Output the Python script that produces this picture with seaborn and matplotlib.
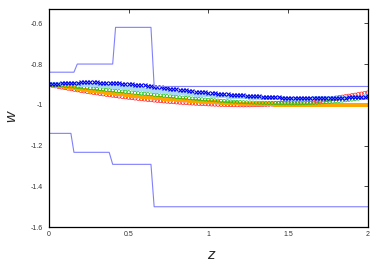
import numpy as np
import pandas as pd
import matplotlib
matplotlib.use("Agg")
import matplotlib.pyplot as plt
import seaborn as sns

# ---------------- data ----------------
z = np.linspace(0.0, 2.0, 101)

w_red = [
    -0.9000, -0.9031, -0.9061, -0.9090, -0.9119, -0.9148, -0.9176, -0.9204, -0.9231, -0.9258,
    -0.9284, -0.9310, -0.9335, -0.9360, -0.9384, -0.9408, -0.9432, -0.9455, -0.9477, -0.9499,
    -0.9521, -0.9542, -0.9562, -0.9582, -0.9602, -0.9621, -0.9640, -0.9658, -0.9676, -0.9693,
    -0.9710, -0.9726, -0.9742, -0.9758, -0.9773, -0.9787, -0.9801, -0.9814, -0.9827, -0.9840,
    -0.9852, -0.9864, -0.9875, -0.9885, -0.9896, -0.9905, -0.9915, -0.9923, -0.9932, -0.9939,
    -0.9947, -0.9954, -0.9960, -0.9966, -0.9971, -0.9976, -0.9981, -0.9985, -0.9988, -0.9991,
    -0.9994, -0.9994, -0.9993, -0.9991, -0.9988, -0.9985, -0.9981, -0.9977, -0.9971, -0.9965,
    -0.9958, -0.9951, -0.9943, -0.9934, -0.9924, -0.9914, -0.9903, -0.9891, -0.9879, -0.9866,
    -0.9852, -0.9837, -0.9822, -0.9806, -0.9789, -0.9772, -0.9753, -0.9735, -0.9715, -0.9695,
    -0.9674, -0.9652, -0.9630, -0.9606, -0.9583, -0.9558, -0.9533, -0.9507, -0.9480, -0.9453,
    -0.9424,
]

w_orange = [
    -0.9000, -0.9025, -0.9049, -0.9074, -0.9098, -0.9121, -0.9144, -0.9167, -0.9190, -0.9212,
    -0.9234, -0.9256, -0.9278, -0.9299, -0.9319, -0.9340, -0.9360, -0.9380, -0.9399, -0.9419,
    -0.9438, -0.9456, -0.9474, -0.9492, -0.9510, -0.9527, -0.9544, -0.9561, -0.9578, -0.9594,
    -0.9609, -0.9625, -0.9640, -0.9655, -0.9669, -0.9684, -0.9698, -0.9711, -0.9724, -0.9737,
    -0.9750, -0.9762, -0.9774, -0.9786, -0.9798, -0.9809, -0.9819, -0.9830, -0.9840, -0.9850,
    -0.9859, -0.9869, -0.9878, -0.9886, -0.9894, -0.9902, -0.9910, -0.9917, -0.9924, -0.9931,
    -0.9938, -0.9944, -0.9949, -0.9955, -0.9960, -0.9965, -0.9969, -0.9974, -0.9978, -0.9981,
    -0.9984, -0.9987, -0.9990, -0.9992, -0.9994, -0.9996, -0.9998, -0.9999, -0.9999, -1.0000,
    -1.0000, -1.0000, -1.0000, -1.0000, -1.0000, -1.0000, -1.0000, -1.0000, -1.0000, -1.0000,
    -1.0000, -1.0000, -1.0000, -1.0000, -1.0000, -1.0000, -1.0000, -1.0000, -1.0000, -1.0000,
    -1.0000,
]

w_green = [
    -0.9000, -0.9013, -0.9026, -0.9040, -0.9054, -0.9068, -0.9082, -0.9096, -0.9110, -0.9125,
    -0.9140, -0.9155, -0.9170, -0.9185, -0.9200, -0.9216, -0.9232, -0.9248, -0.9264, -0.9281,
    -0.9298, -0.9313, -0.9329, -0.9345, -0.9361, -0.9377, -0.9393, -0.9409, -0.9425, -0.9441,
    -0.9457, -0.9473, -0.9489, -0.9505, -0.9521, -0.9537, -0.9553, -0.9568, -0.9584, -0.9599,
    -0.9614, -0.9629, -0.9644, -0.9659, -0.9673, -0.9687, -0.9701, -0.9715, -0.9728, -0.9741,
    -0.9754, -0.9767, -0.9779, -0.9791, -0.9803, -0.9814, -0.9825, -0.9836, -0.9846, -0.9856,
    -0.9866, -0.9872, -0.9879, -0.9884, -0.9889, -0.9894, -0.9898, -0.9901, -0.9905, -0.9907,
    -0.9909, -0.9916, -0.9921, -0.9924, -0.9927, -0.9927, -0.9929, -0.9929, -0.9928, -0.9925,
    -0.9921, -0.9916, -0.9910, -0.9903, -0.9895, -0.9886, -0.9876, -0.9865, -0.9853, -0.9840,
    -0.9826, -0.9811, -0.9795, -0.9778, -0.9760, -0.9741, -0.9721, -0.9700, -0.9678, -0.9655,
    -0.9631,
]

w_lightblue = [
    -0.9000, -0.8996, -0.8993, -0.8991, -0.8990, -0.8990, -0.8991, -0.8993, -0.8996, -0.9000,
    -0.9005, -0.9011, -0.9018, -0.9026, -0.9035, -0.9045, -0.9056, -0.9068, -0.9080, -0.9093,
    -0.9106, -0.9120, -0.9134, -0.9149, -0.9164, -0.9179, -0.9195, -0.9211, -0.9227, -0.9243,
    -0.9259, -0.9275, -0.9291, -0.9307, -0.9323, -0.9339, -0.9355, -0.9370, -0.9385, -0.9400,
    -0.9415, -0.9429, -0.9443, -0.9457, -0.9470, -0.9483, -0.9495, -0.9507, -0.9519, -0.9530,
    -0.9541, -0.9551, -0.9561, -0.9571, -0.9580, -0.9589, -0.9597, -0.9605, -0.9613, -0.9620,
    -0.9627, -0.9634, -0.9640, -0.9646, -0.9652, -0.9657, -0.9662, -0.9667, -0.9671, -0.9675,
    -0.9679, -0.9682, -0.9685, -0.9688, -0.9690, -0.9692, -0.9693, -0.9694, -0.9694, -0.9694,
    -0.9693, -0.9692, -0.9690, -0.9688, -0.9685, -0.9682, -0.9678, -0.9674, -0.9669, -0.9664,
    -0.9658, -0.9652, -0.9645, -0.9638, -0.9630, -0.9622, -0.9613, -0.9604, -0.9594, -0.9584,
    -0.9573,
]

w_blue = [
    -0.9000, -0.8984, -0.8969, -0.8956, -0.8944, -0.8934, -0.8925, -0.8917, -0.8911, -0.8906,
    -0.8902, -0.8900, -0.8899, -0.8899, -0.8900, -0.8903, -0.8907, -0.8912, -0.8918, -0.8925,
    -0.8933, -0.8942, -0.8952, -0.8963, -0.8974, -0.8986, -0.8998, -0.9011, -0.9024, -0.9038,
    -0.9052, -0.9070, -0.9089, -0.9108, -0.9127, -0.9146, -0.9165, -0.9184, -0.9203, -0.9222,
    -0.9241, -0.9260, -0.9278, -0.9296, -0.9314, -0.9331, -0.9348, -0.9364, -0.9380, -0.9395,
    -0.9410, -0.9424, -0.9438, -0.9451, -0.9464, -0.9476, -0.9488, -0.9499, -0.9510, -0.9520,
    -0.9530, -0.9541, -0.9552, -0.9562, -0.9572, -0.9582, -0.9591, -0.9600, -0.9608, -0.9616,
    -0.9624, -0.9631, -0.9638, -0.9644, -0.9650, -0.9655, -0.9660, -0.9664, -0.9668, -0.9671,
    -0.9673, -0.9675, -0.9676, -0.9676, -0.9676, -0.9675, -0.9673, -0.9671, -0.9668, -0.9664,
    -0.9660, -0.9655, -0.9650, -0.9644, -0.9637, -0.9630, -0.9622, -0.9614, -0.9605, -0.9596,
    -0.9586,
]

# step-like bound curves
upper_z = [0.0, 0.157, 0.178, 0.400, 0.418, 0.640, 0.660, 2.0]
upper_w = [-0.84, -0.84, -0.80, -0.80, -0.62, -0.62, -0.91, -0.91]
lower_z = [0.0, 0.138, 0.157, 0.378, 0.400, 0.640, 0.660, 2.0]
lower_w = [-1.14, -1.14, -1.233, -1.233, -1.292, -1.292, -1.50, -1.50]

y_ticks = [-1.6, -1.4, -1.2, -1.0, -0.8, -0.6]
y_ticklabels = ["-1.6", "-1.4", "-1.2", "-1", "-0.8", "-0.6"]
x_ticks = [0, 0.5, 1, 1.5, 2]
x_ticklabels = ["0", "0.5", "1", "1.5", "2"]

# ---------------- plot ----------------
sns.set_style("white")
plt.rcParams["font.family"] = ["Liberation Sans", "DejaVu Sans"]

fig, ax = plt.subplots(figsize=(3.82, 2.73), dpi=100)
fig.subplots_adjust(left=0.128, right=0.963, bottom=0.168, top=0.967)

line_col = "#8080ff"
sns.lineplot(x=upper_z, y=upper_w, sort=False, estimator=None, color=line_col,
             linewidth=0.8, ax=ax, legend=False)
sns.lineplot(x=lower_z, y=lower_w, sort=False, estimator=None, color=line_col,
             linewidth=0.8, ax=ax, legend=False)

df = pd.DataFrame({"z": z, "red": w_red, "orange": w_orange, "green": w_green,
                   "lightblue": w_lightblue, "blue": w_blue})

sns.scatterplot(data=df, x="z", y="red", marker="o", s=10, facecolors="none",
                edgecolor="#ff2020", linewidth=0.5, ax=ax, legend=False)
sns.scatterplot(data=df, x="z", y="orange", marker="s", s=6, color="#ffa500",
                linewidth=0, ax=ax, legend=False)
sns.scatterplot(data=df, x="z", y="green", marker="o", s=5, facecolors="none",
                edgecolor="#10c010", linewidth=0.5, ax=ax, legend=False)
sns.scatterplot(data=df, x="z", y="lightblue", marker="s", s=6, color="#a8d8f4",
                linewidth=0, ax=ax, legend=False)
sns.scatterplot(data=df, x="z", y="blue", marker="x", s=8, color="#0000ee",
                linewidth=0.8, ax=ax, legend=False)

ax.set_xlim(0, 2)
ax.set_ylim(-1.6, -0.53)
ax.set_xticks(x_ticks)
ax.set_xticklabels(x_ticklabels)
ax.set_yticks(y_ticks)
ax.set_yticklabels(y_ticklabels)
ax.tick_params(axis="both", direction="in", length=3, width=0.6, labelsize=5,
               labelcolor="#333333", top=True, right=True)
ax.tick_params(axis="y", pad=4.5)
ax.tick_params(axis="x", pad=2.5)

for sp in ax.spines.values():
    sp.set_color("black")
    sp.set_linewidth(0.9)

ax.set_xlabel("z", fontsize=11, style="italic")
ax.set_ylabel("w", fontsize=11, style="italic")
ax.xaxis.label.set_va("center")
ax.yaxis.label.set_va("center")
ax.xaxis.set_label_coords(0.508, -0.128)
ax.yaxis.set_label_coords(-0.119, 0.505)

fig.savefig("out.png", dpi=100)
